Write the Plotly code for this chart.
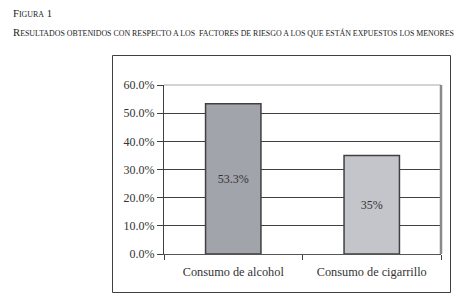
import plotly.graph_objects as go

categories = ["Consumo de alcohol", "Consumo de cigarrillo"]
values = [53.3, 35.0]
bar_labels = ["53.3%", "35%"]
bar_colors = ["#a1a4ab", "#c4c5ca"]
y_ticks = [0, 10, 20, 30, 40, 50, 60]
y_tick_labels = ["0.0%", "10.0%", "20.0%", "30.0%", "40.0%", "50.0%", "60.0%"]

W, H = 464, 306
L, R, T, B = 164, 23, 85, 52
pw, ph = W - L - R, H - T - B

def px(x):
    return (x - L) / pw

def py(y):
    return (H - B - y) / ph

FONT = "Liberation Serif, Times New Roman, serif"

fig = go.Figure(go.Bar(
    x=categories, y=values, text=bar_labels,
    textposition="inside", insidetextanchor="middle",
    textfont=dict(family=FONT, size=12, color="#333333"),
    insidetextfont=dict(family=FONT, size=12, color="#333333"),
    marker=dict(color=bar_colors, line=dict(color="#404040", width=1.5)),
    width=0.4, hoverinfo="skip",
))

fig.update_layout(
    width=W, height=H,
    margin=dict(l=L, r=R, t=T, b=B),
    paper_bgcolor="white", plot_bgcolor="white",
    showlegend=False,
    font=dict(family=FONT, size=12, color="#333333"),
    xaxis=dict(type="category", tickson="boundaries", ticks="outside", ticklen=5,
               tickcolor="#404040", showline=True, linecolor="#555555", linewidth=1,
               showgrid=False, ticklabelstandoff=6,
               tickfont=dict(family=FONT, size=12.3, color="#333333")),
    yaxis=dict(range=[0, 60], tickvals=y_ticks, ticktext=y_tick_labels,
               ticks="outside", ticklen=6, tickcolor="#404040",
               showline=True, linecolor="#404040", linewidth=1,
               showgrid=True, gridcolor="#404040", gridwidth=1, zeroline=False,
               tickfont=dict(family=FONT, size=12, color="#333333")),
    shapes=[
        dict(type="rect", xref="paper", yref="paper",
             x0=px(112.5), x1=px(450.5), y0=py(292.5), y1=py(55.5),
             line=dict(color="#404040", width=1), layer="below"),
        dict(type="line", xref="paper", yref="paper", x0=0, x1=1, y0=1, y1=1,
             line=dict(color="#c4c4c4", width=1.5), layer="above"),
        dict(type="line", xref="paper", yref="paper", x0=1, x1=1, y0=0, y1=1,
             line=dict(color="#8a8a8a", width=2.5), layer="above"),
    ],
    annotations=[
        dict(xref="paper", yref="paper", x=px(11), y=py(13), xanchor="left", yanchor="middle",
             showarrow=False, font=dict(family=FONT, size=10.7, color="#222222"),
             text="F<span style='font-size:7.9px'>IGURA</span> 1"),
        dict(xref="paper", yref="paper", x=px(11), y=py(32), xanchor="left", yanchor="middle",
             showarrow=False, font=dict(family=FONT, size=10.7, color="#222222"),
             text="R<span style='font-size:7.9px'>ESULTADOS OBTENIDOS CON RESPECTO A LOS  FACTORES DE RIESGO A LOS QUE ESTÁN EXPUESTOS LOS MENORES</span>"),
    ],
)

fig.write_html("out.html", config={"displayModeBar": False},
               post_script="document.body.style.margin='0';")
